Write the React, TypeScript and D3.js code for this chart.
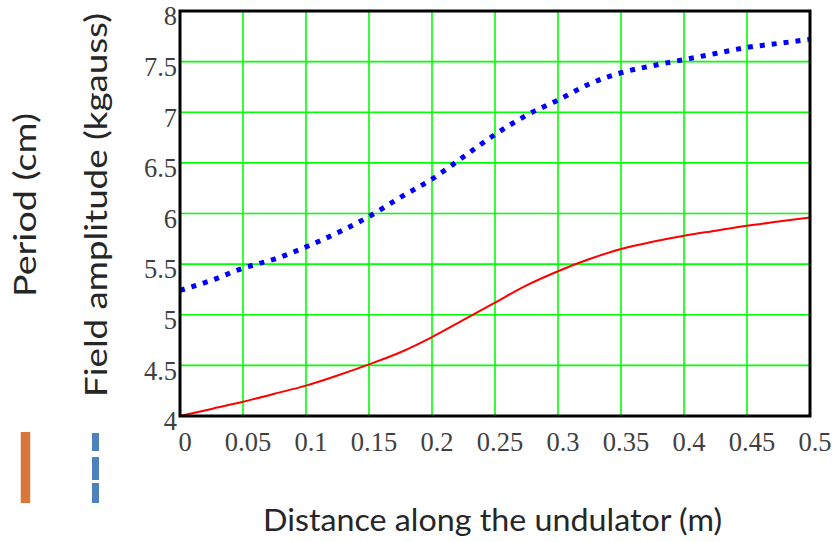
import React from 'react';
import * as d3 from 'd3';

// distance along the undulator (m)
const distance = [0, 0.025, 0.05, 0.075, 0.1, 0.125, 0.15, 0.175, 0.2, 0.225, 0.25, 0.275, 0.3, 0.325, 0.35, 0.375, 0.4, 0.425, 0.45, 0.475, 0.5];
// red solid curve
const period = [4.0, 4.07, 4.14, 4.22, 4.3, 4.4, 4.51, 4.63, 4.78, 4.95, 5.12, 5.29, 5.43, 5.55, 5.65, 5.72, 5.78, 5.83, 5.88, 5.92, 5.96];
// blue dotted curve
const field = [5.24, 5.34, 5.46, 5.55, 5.67, 5.81, 5.97, 6.16, 6.34, 6.56, 6.78, 6.97, 7.12, 7.28, 7.39, 7.46, 7.52, 7.58, 7.64, 7.68, 7.72];

const xTicks = [0, 0.05, 0.1, 0.15, 0.2, 0.25, 0.3, 0.35, 0.4, 0.45, 0.5];
const yTicks = [4, 4.5, 5, 5.5, 6, 6.5, 7, 7.5, 8];

export default function App() {
  const W = 836, H = 542;
  const left = 180, right = 810, top = 11, bottom = 416;

  const x = d3.scaleLinear().domain([0, 0.5]).range([left, right]);
  const y = d3.scaleLinear().domain([4, 8]).range([bottom, top]);

  const line = d3.line<number>()
    .x((d, i) => x(distance[i]))
    .y(d => y(d))
    .curve(d3.curveMonotoneX);

  return (
    <div style={{position: 'absolute', left: 0, top: 0}}>
      <svg width={W} height={H} style={{display: 'block', background: '#fff'}}>
        {/* grid */}
        {xTicks.map(t => (
          <line key={'gx' + t} x1={x(t)} x2={x(t)} y1={top} y2={bottom} stroke="#00ff00" strokeWidth={1.6} />
        ))}
        {yTicks.map(t => (
          <line key={'gy' + t} x1={left} x2={right} y1={y(t)} y2={y(t)} stroke="#00ff00" strokeWidth={1.6} />
        ))}

        <path d={line(period) || ''} fill="none" stroke="#ff0000" strokeWidth={2} />
        <path d={line(field) || ''} fill="none" stroke="#0000ff" strokeWidth={5} strokeDasharray="5 7" />

        {/* frame */}
        <rect x={left} y={top} width={right - left} height={bottom - top} fill="none" stroke="#000" strokeWidth={3} />

        {/* tick labels */}
        {xTicks.map(t => (
          <text key={'tx' + t} x={x(t) + 5} y={451} textAnchor="middle"
            fontFamily="'Liberation Serif', serif" fontSize={26.5} fill="#404040">{String(t)}</text>
        ))}
        {yTicks.map(t => (
          <text key={'ty' + t} x={left - 3} y={y(t) + 5} dy="0.35em" textAnchor="end"
            fontFamily="'Liberation Serif', serif" fontSize={26.5} fill="#404040">{String(t)}</text>
        ))}

        {/* axis titles */}
        <text x={263} y={531} fontFamily="Lato, 'Open Sans', sans-serif" fontSize={30} fill="#262626"
          textLength={459} lengthAdjust="spacingAndGlyphs">Distance along the undulator (m)</text>
        <text transform="translate(36,297) rotate(-90)" fontFamily="Lato, 'Open Sans', sans-serif" fontSize={31} fill="#262626"
          textLength={184} lengthAdjust="spacingAndGlyphs">Period (cm)</text>
        <text transform="translate(107,397) rotate(-90)" fontFamily="Lato, 'Open Sans', sans-serif" fontSize={31} fill="#262626"
          textLength={384} lengthAdjust="spacingAndGlyphs">Field amplitude  (kgauss)</text>

        {/* legend keys */}
        <line x1={25.5} x2={25.5} y1={432} y2={503} stroke="#d9773a" strokeWidth={9.5} />
        <line x1={95.5} x2={95.5} y1={433} y2={503} stroke="#4f81bd" strokeWidth={7} strokeDasharray="18 6 23 3 20" />
      </svg>
    </div>
  );
}
